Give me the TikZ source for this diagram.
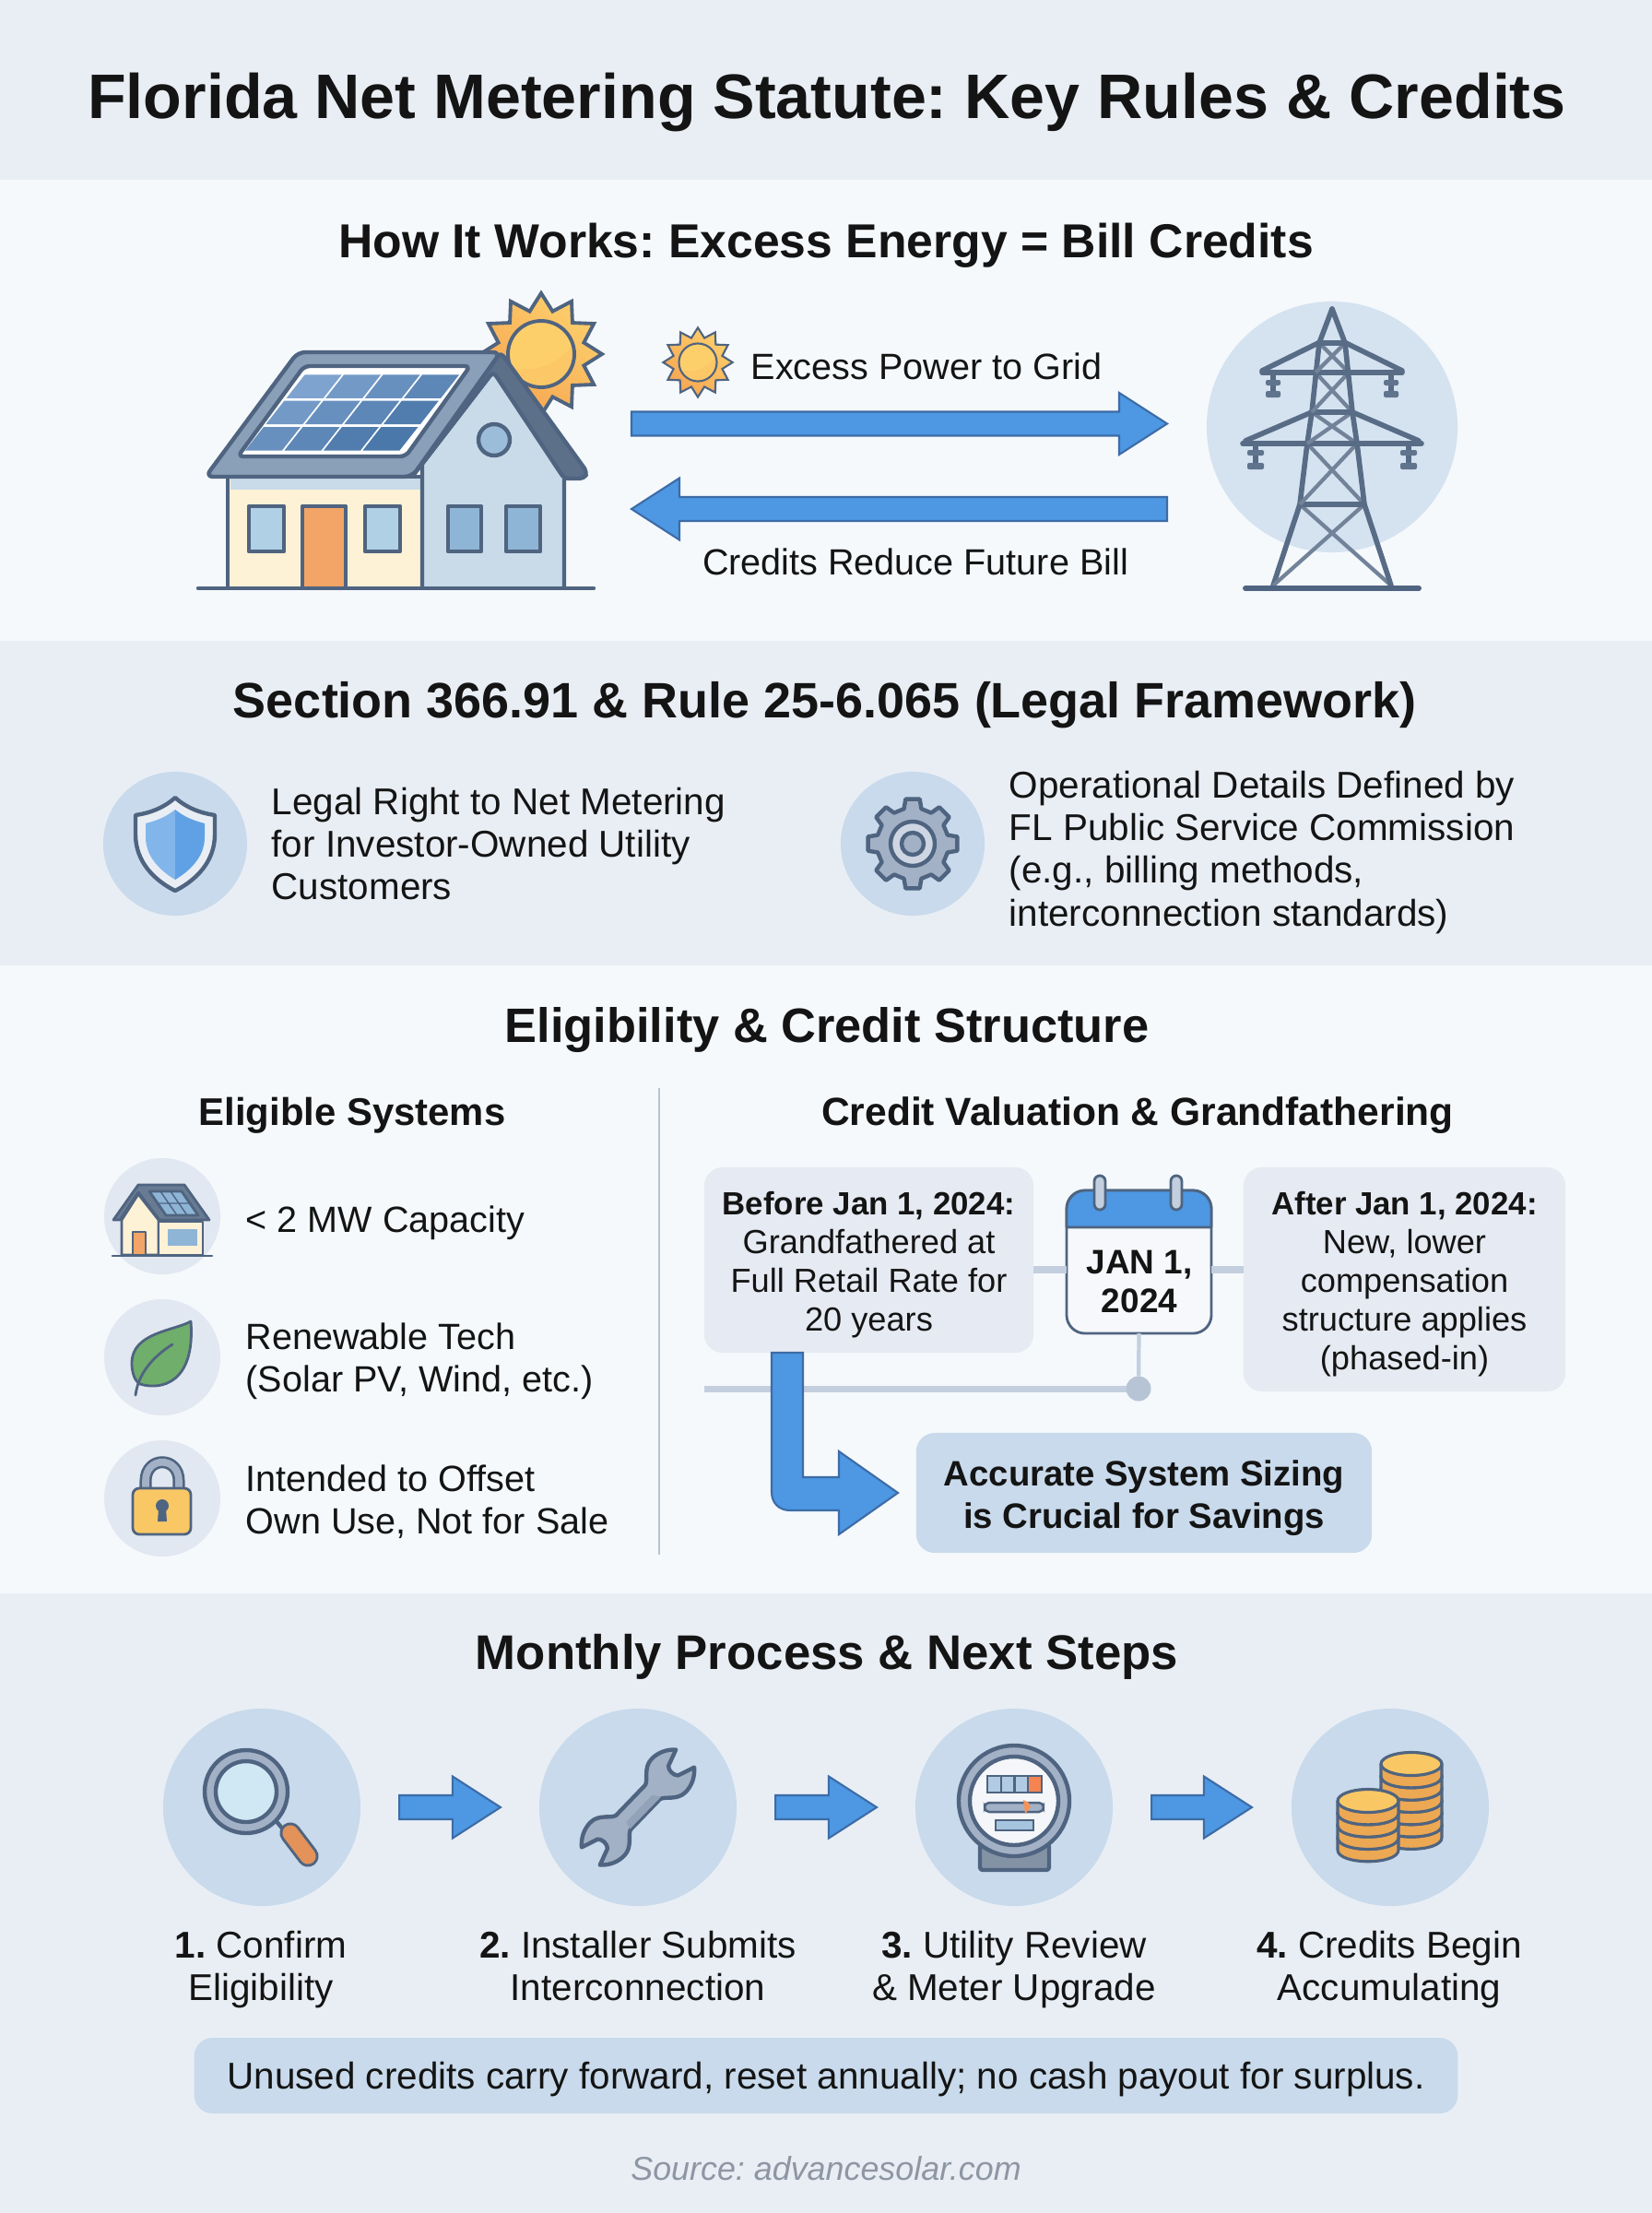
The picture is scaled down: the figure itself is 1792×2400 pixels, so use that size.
\documentclass[tikz,border=0pt]{standalone}
\usepackage{fontspec}
\setmainfont{Liberation Sans}
\usetikzlibrary{calc}

\definecolor{bandpale}{HTML}{F5F9FC}
\definecolor{bandgrey}{HTML}{E9EEF5}
\definecolor{inkblack}{HTML}{141414}
\definecolor{slateline}{HTML}{4F6480}
\definecolor{roofgrey}{HTML}{8A9FB8}
\definecolor{creamwall}{HTML}{FDF1D6}
\definecolor{bluewall}{HTML}{C9DBE9}
\definecolor{glassblue}{HTML}{B0D0E6}
\definecolor{glassdeep}{HTML}{8FB5D6}
\definecolor{panellight}{HTML}{7FA3CF}
\definecolor{paneldark}{HTML}{4A78AA}
\definecolor{doororange}{HTML}{F2A566}
\definecolor{handleorange}{HTML}{E3925A}
\definecolor{sunyellow}{HTML}{FDCF6B}
\definecolor{sunorange}{HTML}{F6A552}
\definecolor{arrowblue}{HTML}{4D97E3}
\definecolor{arrowedge}{HTML}{3D6CA6}
\definecolor{discblue}{HTML}{C8DAEB}
\definecolor{discpale}{HTML}{D5E2F0}
\definecolor{discgrey}{HTML}{E2E8F1}
\definecolor{boxgrey}{HTML}{E6EAF2}
\definecolor{tieline}{HTML}{C3CFDE}
\definecolor{steelgrey}{HTML}{A3B1C6}
\definecolor{leafgreen}{HTML}{70AE6C}
\definecolor{lensblue}{HTML}{CFE8F3}
\definecolor{coinbody}{HTML}{EDA853}
\definecolor{cointop}{HTML}{F9C865}
\definecolor{sourcegrey}{HTML}{8E96A3}

\tikzset{
	bigtitle/.style={inner sep=0pt,text=inkblack,font=\bfseries\fontsize{19.4}{24}\selectfont},
	heading/.style={inner sep=0pt,text=inkblack,font=\bfseries\fontsize{#1}{18}\selectfont},
	subhead/.style={inner sep=0pt,text=inkblack,font=\bfseries\fontsize{#1}{14}\selectfont},
	bodytext/.style={inner sep=0pt,text=inkblack,align=left,font=\fontsize{#1}{13.09}\selectfont},
	steptext/.style={inner sep=0pt,text=inkblack,align=center,font=\fontsize{11.5}{13.09}\selectfont},
	boxtext/.style={inner sep=0pt,text=inkblack,align=center,font=\fontsize{10.3}{11.95}\selectfont},
	softbox/.style={rounded corners=0.2cm,inner sep=0pt,outer sep=0pt,fill=#1},
	disc/.style={circle,inner sep=0pt,outer sep=0pt,minimum size=#1},
	slate/.style={draw=slateline,line width=1.25pt,line join=round},
	thinslate/.style={draw=slateline,line width=0.8pt,line join=round},
	towerbar/.style={draw=slateline!95,line width=1.6pt,line cap=round},
	towerbrace/.style={draw=slateline!80,line width=1.2pt},
	blockarrow/.style={fill=arrowblue,draw=arrowedge,line width=0.6pt,line join=miter},
	tieconn/.style={draw=tieline,line width=2pt},
}

% Bold first line of a grey box
\newcommand{\boxlead}[1]{{\bfseries\fontsize{9.9}{11.95}\selectfont #1}}

% Fat arrow between two points on one level
\newcommand{\fatarrow}[2]{%
	\draw[blockarrow] let \p1=(#1),\p2=(#2),\p3=($(#2)!0.52cm!(#1)$) in
	(\x1,\y1+0.13cm) -- (\x3,\y1+0.13cm) -- (\x3,\y1+0.335cm) -- (\p2)
	-- (\x3,\y1-0.335cm) -- (\x3,\y1-0.13cm) -- (\x1,\y1-0.13cm) -- cycle;}

% Sun: centre, scale, line width
\newcommand{\sunicon}[3]{%
	\begin{scope}[shift={(#1)},scale=#2]
		\draw[draw=slateline,line width=#3,line join=miter,left color=sunyellow,right color=sunorange,shading angle=-40]
		(345:48) \foreach \a in {0,30,...,330} {-- (\a:66) -- (\a+15:48)} -- cycle;
		\begin{scope}
			\clip (0,0) circle (36);
			\fill[sunyellow] (0,0) circle (36);
			\fill[sunyellow!80!sunorange] (-36,14) .. controls (-5,22) and (25,10) .. (36,-16) -- (36,36) -- (-36,36) -- cycle;
		\end{scope}
		\draw[draw=slateline,line width=#3] (0,0) circle (36);
	\end{scope}}

% One coin of a stack
\newcommand{\coinlayer}[3]{%
	\begin{scope}[shift={(#1,#2)}]
		\draw[thinslate,fill=coinbody,line width=0.9pt] (-33,0) -- (-33,13.3) .. controls (-33,30) and (33,30) .. (33,13.3) -- (33,0);
		\draw[thinslate,fill=#3,line width=0.9pt] (0,0) ellipse (33 and 12.5);
	\end{scope}}

\begin{document}
\frenchspacing
\begin{tikzpicture}[x=0.01cm,y=-0.01cm]
	\useasboundingbox (0,0) rectangle (1792,2400);

	% Bands
	\fill[bandgrey] (0,0) rectangle (1792,195);
	\fill[bandpale] (0,195) rectangle (1792,695);
	\fill[bandgrey] (0,695) rectangle (1792,1047);
	\fill[bandpale] (0,1047) rectangle (1792,1728);
	\fill[bandgrey] (0,1728) rectangle (1792,2400);

	% Title
	\node[bigtitle] (mainTitle) at (897,111) {Florida Net Metering Statute: Key Rules \& Credits};

	% How it works
	\node[heading=14.7] (worksHead) at (896,266.5) {How It Works: Excess Energy = Bill Credits};

	% Sun behind the roof
	\sunicon{587,384}{1}{1.1pt}

	% House walls
	\draw[slate,fill=creamwall] (247,517) rectangle (458,638);
	\fill[bluewall] (250,519) rectangle (456,531);
	\draw[slate,fill=bluewall] (458,638) -- (458,503) -- (535,403) -- (612,507) -- (612,638);
	\draw[slate,fill=glassdeep!80!bluewall] (536,477) circle (17);

	% Roof
	\draw[slate,fill=slateline!92,rounded corners=0.05cm] (543,382) -- (637,512) -- (634,519) -- (612,519) -- (535,403) -- (458,503) -- (447,517) -- cycle;
	\draw[slate,fill=roofgrey,rounded corners=0.08cm] (223,517) -- (323,382) -- (543,382) -- (447,517) -- cycle;

	% Solar panel
	\draw[slate,fill=white,rounded corners=0.06cm] (258,495) -- (330,397) -- (510,397) -- (440,495) -- cycle;
	\foreach \c in {0,1,2,3} {
		\foreach \r in {0,1,2} {
			\pgfmathsetmacro{\shadev}{max(0,100-(\c+2-\r)*22)}
			\fill[fill=panellight!\shadev!paneldark]
			({266+\r*22.3+\c*42.5},{488.5-\r*28.3}) -- ({266+\r*22.3+\c*42.5+20},{488.5-\r*28.3-25.5}) -- ({266+\r*22.3+\c*42.5+20+40},{488.5-\r*28.3-25.5}) -- ({266+\r*22.3+\c*42.5+40},{488.5-\r*28.3}) -- cycle;
		}
	}

	% Windows and door
	\draw[slate,fill=glassblue] (270,549) rectangle (308,598);
	\draw[slate,fill=glassblue] (396,549) rectangle (434,598);
	\draw[slate,fill=doororange] (328,549) rectangle (375,638);
	\draw[slate,fill=glassdeep] (486,549) rectangle (522,598);
	\draw[slate,fill=glassdeep] (549,549) rectangle (586,598);
	\draw[slate,line cap=round] (215,638) -- (644,638);

	% Flow arrows
	\coordinate (houseOut) at (685,459.5);
	\coordinate (towerIn) at (1266,459.5);
	\coordinate (towerOut) at (1266,552);
	\coordinate (houseIn) at (685,552);
	\sunicon{757,393}{0.57}{0.6pt}
	\node[bodytext=11.25,anchor=west] (excessText) at (814,397.5) {Excess Power to Grid};
	\fatarrow{houseOut}{towerIn}
	\fatarrow{towerOut}{houseIn}
	\node[bodytext=11.25] (creditText) at (993,609) {Credits Reduce Future Bill};

	% Tower
	\node[disc=2.72cm,fill=discpale] (towerDisc) at (1445,463) {};
	\foreach \s in {1,-1} {
		\begin{scope}[shift={(1445,0)},xscale=\s]
			\draw[towerbrace] (-14,372) -- (18,404) (-18,404) -- (22,447) (-22,447) -- (27,481) (-27,481) -- (35,547) (-35,547) -- (64,635);
			\draw[towerbar] (0,335) -- (-14,372) -- (-22,447) -- (-27,481) -- (-35,547) -- (-64,635);
			\draw[towerbar] (-15,372) -- (-76,402) (-22,447) -- (-94,478);
			\draw[towerbar] (0,372) -- (-14,372) (0,447) -- (-22,447) (0,547) -- (-35,547);
			\draw[towerbar] (0,404) -- (-76,404) (0,481) -- (-97,481);
			\draw[towerbar] (-64,404) -- (-64,428) (-83,481) -- (-83,506);
			\fill[slateline!90,rounded corners=0.02cm] (-72,412) rectangle (-56,418) (-72,424) rectangle (-56,431);
			\fill[slateline!90,rounded corners=0.02cm] (-92,488) rectangle (-74,494) (-92,502) rectangle (-74,509);
		\end{scope}
	}
	\draw[slate,line width=1.7pt,line cap=round] (1351,638) -- (1539,638);

	% Legal framework
	\node[heading=15.35] (legalHead) at (895,764.5) {Section 366.91 \& Rule 25-6.065 (Legal Framework)};
	\node[disc=1.56cm,fill=discblue] (shieldDisc) at (190,915) {};
	\draw[slate,fill=bandgrey] (190,865) .. controls (178,876) and (162,882) .. (147,884) -- (147,905) .. controls (147,935) and (168,955) .. (190,966) .. controls (212,955) and (233,935) .. (233,905) -- (233,884) .. controls (218,882) and (202,876) .. (190,865) -- cycle;
	\fill[arrowblue!70!white] (190,878) .. controls (180,886) and (170,890) .. (158,893) -- (158,908) .. controls (158,930) and (175,945) .. (190,954) -- cycle;
	\fill[arrowblue!85!discblue] (190,878) .. controls (200,886) and (210,890) .. (222,893) -- (222,908) .. controls (222,930) and (205,945) .. (190,954) -- cycle;
	\node[bodytext=11.5,anchor=west] (legalLeft) at (294,915) {Legal Right to Net Metering\\for Investor-Owned Utility\\Customers};

	\node[disc=1.56cm,fill=discblue] (gearDisc) at (990,915) {};
	\begin{scope}[shift={(990,915)}]
		\draw[slate,fill=steelgrey] (-14:39) \foreach \a in {0,45,...,315} {-- (\a-14:39) -- (\a-9:49) -- (\a+9:49) -- (\a+14:39)} -- cycle;
		\draw[slate,fill=bandgrey!60!steelgrey] (0,0) circle (24);
		\draw[slate,fill=steelgrey] (0,0) circle (12);
	\end{scope}
	\node[bodytext=11.5,anchor=west] (legalRight) at (1094,924.5) {Operational Details Defined by\\FL Public Service Commission\\(e.g., billing methods,\\interconnection standards)};

	% Eligibility
	\node[heading=14.9] (eligHead) at (897,1117.5) {Eligibility \& Credit Structure};
	\node[subhead=11.9] (eligSub) at (382,1209.5) {Eligible Systems};
	\node[subhead=12.1] (creditSub) at (1234,1209.5) {Credit Valuation \& Grandfathering};
	\coordinate (divTop) at (715,1180);
	\coordinate (divEnd) at (715,1686);
	\draw[draw=tieline!90!slateline,line width=0.8pt] (divTop) -- (divEnd);

	% Small house
	\node[disc=1.26cm,fill=discgrey] (homeDisc) at (176,1319) {};
	\draw[thinslate,fill=creamwall] (132,1361) -- (132,1323) -- (150,1295) -- (172,1323) -- (172,1361) -- cycle;
	\draw[thinslate,fill=creamwall] (172,1325) rectangle (220,1361);
	\draw[thinslate,fill=slateline!85] (123,1323) -- (150,1285) -- (200,1285) -- (227,1323) -- (173,1323) -- (150,1293) -- (130,1323) -- cycle;
	\draw[thinslate,fill=glassdeep] (162,1292) -- (197,1292) -- (215,1318) -- (180,1318) -- cycle;
	\draw[draw=slateline,line width=0.4pt] (171,1305) -- (206,1305) (174,1292) -- (192,1318) (185,1292) -- (203,1318);
	\draw[thinslate,fill=doororange] (144,1336) rectangle (158,1361);
	\fill[glassdeep] (182,1333) rectangle (214,1351);
	\draw[thinslate,line cap=round] (122,1362) -- (230,1362);
	\node[bodytext=11.25,anchor=west] (sizeText) at (266,1326.5) {< 2 MW Capacity};

	% Leaf
	\node[disc=1.26cm,fill=discgrey] (leafDisc) at (176,1472) {};
	\draw[thinslate,fill=leafgreen] (207,1433) .. controls (190,1443) and (143,1445) .. (143,1478) .. controls (143,1495) and (150,1500) .. (152,1501) .. controls (175,1508) and (212,1500) .. (207,1433) -- cycle;
	\draw[thinslate,line cap=round] (147,1513) .. controls (150,1490) and (165,1472) .. (187,1458);
	\node[bodytext=11.25,anchor=west] (techText) at (266,1476.5) {Renewable Tech\\(Solar PV, Wind, etc.)};

	% Lock
	\node[disc=1.26cm,fill=discgrey] (lockDisc) at (176,1625) {};
	\draw[draw=slateline,line width=3.7pt] (158,1616) -- (158,1606) .. controls (158,1579) and (194,1579) .. (194,1606) -- (194,1616);
	\draw[draw=steelgrey,line width=2.2pt] (158,1616) -- (158,1606) .. controls (158,1579) and (194,1579) .. (194,1606) -- (194,1616);
	\draw[thinslate,fill=cointop,rounded corners=0.07cm] (144,1614) rectangle (207,1664);
	\fill[slateline] (176,1633) circle (7) (172,1636) -- (180,1636) -- (181,1650) -- (171,1650) -- cycle;
	\node[bodytext=11.25,anchor=west] (useText) at (266,1628.5) {Intended to Offset\\Own Use, Not for Sale};

	% Grandfathering boxes and date
	\node[softbox=boxgrey,minimum width=3.57cm,minimum height=2.01cm] (beforeBox) at (942.5,1366.5) {};
	\node[boxtext] (beforeText) at (942.5,1371.5) {\boxlead{Before Jan 1, 2024:}\\Grandfathered at\\Full Retail Rate for\\20 years};
	\node[softbox=boxgrey,minimum width=3.49cm,minimum height=2.43cm] (afterBox) at (1523.5,1387.5) {};
	\node[boxtext] (afterText) at (1523.5,1392.5) {\boxlead{After Jan 1, 2024:}\\New, lower\\compensation\\structure applies\\(phased-in)};
	\node[thinslate,fill=bandgrey!40!white,rounded corners=0.2cm,inner sep=0pt,outer sep=0pt,minimum width=1.57cm,minimum height=1.55cm] (calBody) at (1235.5,1368.5) {};
	\draw[thinslate,fill=arrowblue,rounded corners=0.2cm] (1157,1331) -- (1157,1291) -- (1314,1291) [sharp corners] -- (1314,1331) -- cycle;
	\draw[thinslate,fill=tieline,rounded corners=0.06cm] (1187,1275) rectangle (1199,1312);
	\draw[thinslate,fill=tieline,rounded corners=0.06cm] (1270,1275) rectangle (1282,1312);
	\node[inner sep=0pt,text=inkblack,align=center,font=\bfseries\fontsize{10.5}{11.7}\selectfont] (calText) at (1236,1390) {JAN 1,\\2024};

	% Timeline
	\coordinate (tieLevel) at (1236,1377);
	\coordinate (timeStart) at (764,1506);
	\node[disc=0.27cm,fill=tieline!90!slateline] (timeDot) at (1235,1506) {};
	\draw[tieconn] (beforeBox.east |- tieLevel) -- (calBody.west |- tieLevel);
	\draw[tieconn] (calBody.east |- tieLevel) -- (afterBox.west |- tieLevel);
	\draw[tieconn,line width=1.2pt] (calBody.south) -- (timeDot);
	\draw[tieconn] (timeDot) -- (timeStart);

	% Elbow arrow to the sizing box
	\draw[blockarrow] (837,1467) -- (837,1618) .. controls (837,1630) and (845,1638) .. (857,1638) -- (910,1638) -- (910,1664) -- (974,1619) -- (910,1574) -- (910,1602) -- (871,1602) -- (871,1467) -- cycle;
	\node[softbox=discblue,minimum width=4.94cm,minimum height=1.30cm] (sizeBox) at (1241,1619) {};
	\node[inner sep=0pt,text=inkblack,align=center,font=\bfseries\fontsize{10.9}{13.09}\selectfont] (sizeNote) at (1241,1625) {Accurate System Sizing\\is Crucial for Savings};

	% Monthly process
	\node[heading=15] (stepHead) at (897,1796.5) {Monthly Process \& Next Steps};
	\node[disc=2.14cm,fill=discblue] (stepOne) at (284,1960) {};
	\node[disc=2.14cm,fill=discblue] (stepTwo) at (692,1960) {};
	\node[disc=2.14cm,fill=discblue] (stepThree) at (1100,1960) {};
	\node[disc=2.14cm,fill=discblue] (stepFour) at (1508,1960) {};
	\fatarrow{$(stepOne.east)+(42,0)$}{$(stepTwo.west)+(-42,0)$}
	\fatarrow{$(stepTwo.east)+(42,0)$}{$(stepThree.west)+(-42,0)$}
	\fatarrow{$(stepThree.east)+(42,0)$}{$(stepFour.west)+(-43,0)$}

	% Magnifier
	\draw[slate] (298,1973) -- (312,1990);
	\draw[draw=slateline,line width=6.6pt,line cap=round] (315,1988) -- (334,2013);
	\draw[draw=handleorange,line width=4.9pt,line cap=round] (315,1988) -- (334,2013);
	\draw[slate,fill=steelgrey] (267,1943) circle (45);
	\draw[slate,fill=lensblue] (267,1943) circle (33);

	% Wrench
	\begin{scope}[shift={(692,1960)},rotate=46,scale=0.92]
		\draw[slate,fill=steelgrey] (25,-12) .. controls (32,-14) and (38,-28) .. (52,-28) .. controls (62,-28) and (72,-24) .. (80,-15) -- (60,-8) .. controls (56,-4) and (56,4) .. (60,8) -- (80,15) .. controls (72,24) and (62,28) .. (52,28) .. controls (38,28) and (32,14) .. (25,12)
		-- (-25,12) .. controls (-32,14) and (-38,28) .. (-52,28) .. controls (-62,28) and (-72,24) .. (-80,15) -- (-60,8) .. controls (-56,4) and (-56,-4) .. (-60,-8) -- (-80,-15) .. controls (-72,-24) and (-62,-28) .. (-52,-28) .. controls (-38,-28) and (-32,-14) .. (-25,-12) -- cycle;
		\fill[steelgrey!80!slateline] (-22,2) -- (22,2) -- (28,11) -- (-25,11) -- cycle;
	\end{scope}

	% Meter
	\draw[slate,fill=slateline!70,rounded corners=0.03cm] (1063,2000) rectangle (1138,2028);
	\draw[slate,fill=steelgrey] (1100,1953) circle (60);
	\draw[slate,fill=bandgrey!50!white] (1100,1953) circle (48);
	\foreach \k in {0,1,2} {
		\draw[draw=slateline,line width=0.7pt,fill=glassdeep!70!white] ({1071+\k*14.75},1926) rectangle ({1085.75+\k*14.75},1944);
	}
	\draw[draw=slateline,line width=0.7pt,fill=doororange!80!red] (1115.25,1926) rectangle (1130,1944);
	\draw[draw=slateline,line width=0.7pt,fill=steelgrey,rounded corners=0.05cm] (1068,1955) rectangle (1132,1965);
	\fill[doororange!90!red] (1110,1952) -- (1116,1955) -- (1118,1960) -- (1112,1967) -- cycle;
	\draw[draw=slateline,line width=0.7pt,fill=glassdeep!80!white] (1080,1974) rectangle (1121,1985);

	% Coins
	\foreach \k in {5,4,3,2,1} {\coinlayer{1531}{1913+\k*13.3}{coinbody}}
	\coinlayer{1531}{1913}{cointop}
	\foreach \k in {3,2,1} {\coinlayer{1484}{1953+\k*13.3}{coinbody}}
	\coinlayer{1484}{1953}{cointop}

	% Step labels
	\node[steptext] (stepOneText) at (283,2136.5) {\textbf{1.} Confirm\\Eligibility};
	\node[steptext] (stepTwoText) at (692,2132) {\textbf{2.} Installer Submits\\Interconnection};
	\node[steptext] (stepThreeText) at (1100,2136.5) {\textbf{3.} Utility Review\\\& Meter Upgrade};
	\node[steptext] (stepFourText) at (1507,2136.5) {\textbf{4.} Credits Begin\\Accumulating};

	% Note and source
	\node[softbox=discblue,minimum width=13.7cm,minimum height=0.82cm] (noteBox) at (896,2251) {};
	\node[inner sep=0pt,text=inkblack,font=\fontsize{11.5}{14}\selectfont] (noteText) at (896,2255.5) {Unused credits carry forward, reset annually; no cash payout for surplus.};
	\node[inner sep=0pt,text=sourcegrey,font=\itshape\fontsize{10.2}{13}\selectfont] (sourceText) at (896,2352) {Source: advancesolar.com};
\end{tikzpicture}
\end{document}
